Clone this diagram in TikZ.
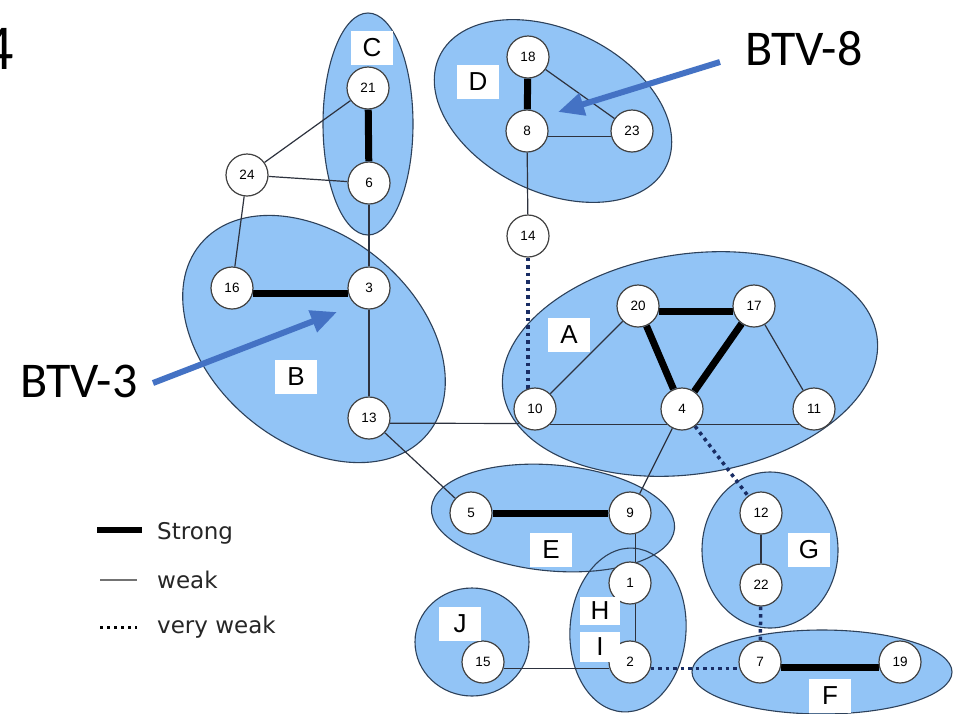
\documentclass[tikz,border=0pt]{standalone}
\usepackage{fontspec}
\setmainfont{Liberation Sans}
\newfontfamily\calib{Carlito}
\newfontfamily\legfont{DejaVu Sans}
\usetikzlibrary{arrows.meta,backgrounds}
\definecolor{clfill}{RGB}{146,196,246}
\definecolor{clline}{RGB}{45,65,90}
\definecolor{edgec}{RGB}{45,50,62}
\definecolor{dotc}{RGB}{25,45,100}
\definecolor{arrowc}{RGB}{68,114,196}
\pgfdeclarelayer{clusterfill}
\pgfdeclarelayer{clusteredge}
\pgfdeclarelayer{edgelayer}
\pgfsetlayers{clusterfill,clusteredge,edgelayer,main}
\newcommand\myclus[5]{%
 \begin{pgfonlayer}{clusterfill}\fill[clfill,rotate around={#5:(#1,#2)}] (#1,#2) ellipse [x radius=#3,y radius=#4];\end{pgfonlayer}%
 \begin{pgfonlayer}{clusteredge}\draw[clline,line width=1.1pt,rotate around={#5:(#1,#2)}] (#1,#2) ellipse [x radius=#3,y radius=#4];\end{pgfonlayer}}
\begin{document}
\begin{tikzpicture}[x=1pt,y=1pt,
 vtx/.style={circle,draw=black!75,fill=white,line width=1.2pt,minimum size=42pt,inner sep=0pt,font=\fontsize{13.5}{13.5}\selectfont},
 lab/.style={fill=white,inner sep=0pt,minimum width=42pt,minimum height=34pt,font=\fontsize{26}{26}\selectfont},
 weak/.style={draw=edgec,line width=1.2pt},
 strong/.style={draw=black,line width=7pt},
 vweak/.style={draw=dotc,line width=3.5pt,dash pattern=on 3.5pt off 4pt},
 btv/.style={font=\calib\fontsize{50}{50}\selectfont,inner sep=0pt},
 blarrow/.style={draw=arrowc,line width=6pt,-{Triangle[length=26pt,width=22pt]}},
 legtext/.style={font=\legfont\fontsize{23}{23}\selectfont,anchor=west,inner sep=0pt,text=black!85}
]
\useasboundingbox (0,0) rectangle (953,-713);
\begin{pgfonlayer}{clusterfill}
\fill[white] (0,0) rectangle (953,-713);
\end{pgfonlayer}

% clusters
\myclus{368}{-124}{45}{111}{0}
\myclus{553}{-111}{126}{81}{-26}
\myclus{314}{-339}{148}{103}{-40}
\myclus{690}{-364}{189}{110}{8.5}
\myclus{553}{-518}{122}{53}{-5}
\myclus{770}{-550}{68}{78}{0}
\myclus{628}{-630}{58}{82}{-4}
\myclus{472}{-642}{57}{54}{0}
\myclus{822}{-672}{130}{42}{0}

% vertices
\node[vtx] (n21) at (368,-88) {21};
\node[vtx] (n6) at (369,-183) {6};
\node[vtx] (n24) at (247,-175) {24};
\node[vtx] (n16) at (232,-288) {16};
\node[vtx] (n3) at (369,-288) {3};
\node[vtx] (n13) at (369,-418) {13};
\node[vtx] (n18) at (528,-57) {18};
\node[vtx] (n8) at (527,-131) {8};
\node[vtx] (n23) at (632,-131) {23};
\node[vtx] (n14) at (528,-236) {14};
\node[vtx] (n20) at (638,-306) {20};
\node[vtx] (n17) at (754,-306) {17};
\node[vtx] (n10) at (535,-409) {10};
\node[vtx] (n4) at (682,-409) {4};
\node[vtx] (n11) at (814,-409) {11};
\node[vtx] (n5) at (471,-513) {5};
\node[vtx] (n9) at (630,-513) {9};
\node[vtx] (n12) at (761,-513) {12};
\node[vtx] (n22) at (761,-585) {22};
\node[vtx] (n1) at (630,-583) {1};
\node[vtx] (n2) at (630,-662) {2};
\node[vtx] (n15) at (483,-662) {15};
\node[vtx] (n7) at (760,-662) {7};
\node[vtx] (n19) at (900,-662) {19};

% edges
\begin{pgfonlayer}{edgelayer}
\draw[strong] (n21) -- (n6);
\draw[weak] (n24) -- (n21);
\draw[weak] (n24) -- (n6);
\draw[weak] (n24) -- (n16);
\draw[weak] (n6) -- (n3);
\draw[strong] (n16.-16) -- (n3.196);
\draw[weak] (n3) -- (n13);
\draw[weak] (n13.-14) -- (n10.222);
\draw[weak] (n10.-45) -- (n4.-135);
\draw[weak] (n4.-45) -- (n11.-135);
\draw[weak] (n10) -- (n20);
\draw[vweak] (n14) -- (n14 |- n10);
\draw[weak] (n14) -- (n8);
\draw[strong] (n18) -- (n8);
\draw[weak] (n18) -- (n23);
\draw[weak] (n8.-15) -- (n23.195);
\draw[strong] (n20.-16) -- (n17.196);
\draw[strong] (n20) -- (n4);
\draw[strong] (n17) -- (n4);
\draw[weak] (n17) -- (n11);
\draw[weak] (n4) -- (n9);
\draw[vweak] (n4) -- (n12);
\draw[weak] (n13) -- (n5);
\draw[strong] (n5) -- (n9);
\draw[weak] (n9.-76) -- (n1.76);
\draw[weak] (n1.-76) -- (n2.76);
\draw[weak] (n12) -- (n22);
\draw[vweak] (n22) -- (n7);
\draw[weak] (n15.-17) -- (n2.197);
\draw[vweak] (n2.-17) -- (n7.197);
\draw[strong] (n7.-15) -- (n19.195);
\end{pgfonlayer}

% cluster labels
\node[lab] (lC) at (372,-48) {C};
\node[lab] (lD) at (478,-82) {D};
\node[lab] (lA) at (569,-335) {A};
\node[lab] (lB) at (296,-377) {B};
\node[lab] (lE) at (551,-550) {E};
\node[lab] (lG) at (809,-550) {G};
\node[lab,minimum width=40pt,minimum height=28pt] (lH) at (600,-611) {H};
\node[lab,minimum width=40pt,minimum height=30pt] (lI) at (600,-647) {I};
\node[lab] (lJ) at (460,-624) {J};
\node[lab] (lF) at (830,-696) {F};

% annotations
\node[btv] (btv8) at (804,-49) {BTV-8};
\node[btv] (btv3) at (79,-381) {BTV-3};
\coordinate (a8s) at (720,-62);
\coordinate (a8e) at (558,-112);
\coordinate (a3s) at (153,-383);
\coordinate (a3e) at (337,-312);
\draw[blarrow] (a8s) -- (a8e);
\draw[blarrow] (a3s) -- (a3e);
\node[font=\calib\fontsize{64}{64}\selectfont,anchor=east,inner sep=0pt] (fig4) at (14,-49) {4};

% legend
\coordinate (ls1) at (97,-530); \coordinate (ls2) at (142,-530);
\coordinate (lw1) at (100,-580); \coordinate (lw2) at (137,-580);
\coordinate (lv1) at (100,-627); \coordinate (lv2) at (137,-627);
\draw[draw=black,line width=6pt] (ls1) -- (ls2);
\draw[draw=black!55,line width=1.2pt] (lw1) -- (lw2);
\draw[draw=black,line width=3pt,dash pattern=on 3pt off 4pt] (lv1) -- (lv2);
\node[legtext] (t1) at (157,-533) {Strong};
\node[legtext] (t2) at (157,-580) {weak};
\node[legtext] (t3) at (157,-627) {very weak};
\end{tikzpicture}
\end{document}
